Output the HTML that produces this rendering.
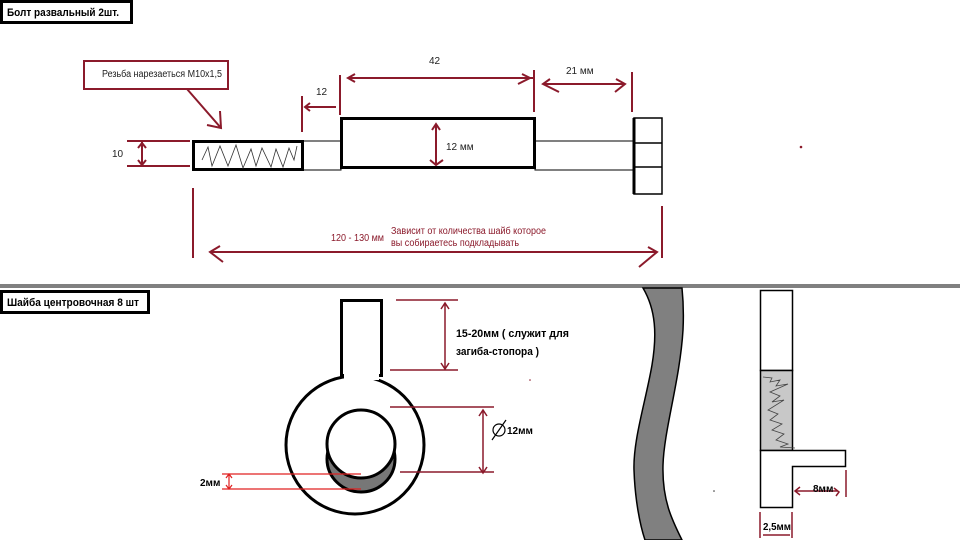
<!DOCTYPE html>
<html><head><meta charset="utf-8"><style>
html,body{margin:0;padding:0;background:#fff;}
svg{display:block;font-family:"Liberation Sans",sans-serif;}
</style></head><body>
<svg width="960" height="540" viewBox="0 0 960 540" xmlns="http://www.w3.org/2000/svg">
<rect width="960" height="540" fill="#fff"/>
<!-- Title 1 -->
<rect x="1.5" y="1.5" width="130" height="21" fill="#fff" stroke="#000" stroke-width="3"/>
<text x="7" y="16" font-size="11" font-weight="bold" textLength="112" lengthAdjust="spacingAndGlyphs">Болт развальный 2шт.</text>
<!-- bolt -->
<g fill="#fff" stroke="#000">
<rect x="303" y="141" width="38" height="29" stroke-width="1"/>
<rect x="535" y="141" width="99" height="29" stroke-width="1"/>
<rect x="193.5" y="141.5" width="109" height="28" stroke-width="3"/>
<rect x="341.5" y="118.5" width="193" height="49" stroke-width="3"/>
<rect x="634" y="118" width="28" height="76" stroke-width="1.5"/>
<path d="M634 143 H662 M634 167 H662" stroke-width="1.5"/>
<path d="M634 118 V194" stroke-width="3"/>
</g>
<path d="M202 160 L208 147 L212 166 L220 146 L228 166 L236 145 L243 168 L251 149 L256 166 L262 148 L271 167 L276 149 L283 167 L289 148 L294 160 L297 146" fill="none" stroke="#333" stroke-width="0.8"/>
<!-- callout -->
<rect x="84" y="61" width="144" height="28" fill="#fff" stroke="#8b1a2b" stroke-width="2"/>
<text x="102" y="77" font-size="10" fill="#222" textLength="120" lengthAdjust="spacingAndGlyphs">Резьба нарезаеться М10х1,5</text>
<g stroke="#8b1a2b" stroke-width="2" fill="none">
<path d="M187 89 L221 128 M220 111 L221 128 L207 125"/>
<path d="M127 141 H190 M127 166 H190 M142 142 V165 M138 148 L142 143 L146 148 M138 160 L142 165 L146 160"/>
<path d="M302 96 V132 M340 75 V115 M305 107 H336 M310 103 L305 107 L310 111"/>
<path d="M348 78 H533 M534 70 V112 M355 74 L348 78 L355 82 M522 74 L530 78 L518 84"/>
<path d="M543 84 H625 M632 72 V112 M550 79 L543 84 L559 92 M616 79 L625 84 L615 92"/>
<path d="M436 124 V164 M432 130 L436 124 L440 130 M430 160 L436 165 L443 160"/>
<path d="M193 188 V258 M662 206 V258 M210 252 H657 M220 246 L210 252 L223 262 M648 247 L657 252 L639 267"/>
</g>
<text x="429" y="64" font-size="10" fill="#222">42</text>
<text x="316" y="95" font-size="10" fill="#222">12</text>
<text x="566" y="74" font-size="10" fill="#222">21 мм</text>
<text x="112" y="157" font-size="10" fill="#222">10</text>
<text x="446" y="150" font-size="10" fill="#222">12 мм</text>
<text x="331" y="241" font-size="10" fill="#8b1a2b" textLength="53" lengthAdjust="spacingAndGlyphs">120 - 130 мм</text>
<text x="391" y="234" font-size="10" fill="#8b1a2b" textLength="155" lengthAdjust="spacingAndGlyphs">Зависит от количества шайб которое</text>
<text x="391" y="246" font-size="10" fill="#8b1a2b" textLength="128" lengthAdjust="spacingAndGlyphs">вы собираетесь подкладывать</text>
<circle cx="801" cy="147" r="1.3" fill="#8b1a2b"/>
<!-- separator -->
<rect x="0" y="284" width="960" height="4" fill="#808080"/>
<!-- Title 2 -->
<rect x="1.5" y="291.5" width="147" height="21" fill="#fff" stroke="#000" stroke-width="3"/>
<text x="7" y="306" font-size="11" font-weight="bold" textLength="132" lengthAdjust="spacingAndGlyphs">Шайба центровочная 8 шт</text>
<!-- washer -->
<circle cx="355" cy="445" r="69" fill="#fff" stroke="#000" stroke-width="3"/>
<rect x="341.5" y="300.5" width="40" height="75" fill="#fff" stroke="#000" stroke-width="3"/>
<rect x="344" y="372" width="35" height="8" fill="#fff"/>
<ellipse cx="361" cy="459" rx="34" ry="33" fill="#777" stroke="#000" stroke-width="3"/>
<circle cx="361" cy="444" r="34" fill="#fff" stroke="#000" stroke-width="3"/>
<g stroke="#8b1a2b" stroke-width="1.5" fill="none">
<path d="M396 300 H458 M390 370 H458 M445 304 V368 M441 309 L445 303 L449 309 M441 363 L445 369 L449 363"/>
<path d="M390 407 H494 M400 472 H494 M483 411 V472 M479 416 L483 410 L487 416 M479 467 L483 473 L487 467"/>
</g>
<g stroke="#e02020" stroke-width="1.2" fill="none">
<path d="M222 474 H361 M222 489 H361 M229 475 V488 M226 478 L229 474 L232 478 M226 485 L229 489 L232 485"/>
</g>
<text x="456" y="337" font-size="11" font-weight="bold" textLength="113" lengthAdjust="spacingAndGlyphs">15-20мм ( служит для</text>
<text x="456" y="355" font-size="11" font-weight="bold" textLength="83" lengthAdjust="spacingAndGlyphs">загиба-стопора )</text>
<circle cx="499" cy="430" r="6" fill="none" stroke="#000" stroke-width="1.2"/>
<path d="M492 440 L506 420" stroke="#000" stroke-width="1.2"/>
<text x="507" y="434" font-size="10" font-weight="bold">12мм</text>
<text x="200" y="486" font-size="10" font-weight="bold">2мм</text>
<circle cx="530" cy="380" r="0.8" fill="#8b1a2b"/>
<circle cx="714" cy="491" r="0.8" fill="#333"/>
<!-- S curve -->
<path d="M643 288 C656 310 657 335 652 365 C646 400 633 440 634 470 C635 500 640 525 645 540 L682 540 C672 520 662 500 663 465 C664 430 680 380 683 330 C684 310 683 298 682 288 Z" fill="#808080" stroke="#000" stroke-width="1.5"/>
<!-- right section -->
<rect x="760.5" y="290.5" width="32" height="80" fill="#fff" stroke="#000" stroke-width="1.5"/>
<rect x="760.5" y="370.5" width="32" height="80" fill="#c8c8c8" stroke="#000" stroke-width="1.5"/>
<path d="M763 377 L772 378 L770 382 L780 380 L776 386 L788 384 L770 392 L780 396 L772 402 L784 400 L768 410 L778 414 L770 420 L782 424 L772 430 L784 434 L776 440 L788 444 L780 447 L795 448" fill="none" stroke="#444" stroke-width="0.8"/>
<path d="M760.5 450.5 H845.5 V466.5 H792.5 V507.5 H760.5 Z" fill="#fff" stroke="#000" stroke-width="1.5"/>
<g stroke="#8b1a2b" stroke-width="1.5" fill="none">
<path d="M846 470 V497 M795 491 H838 M800 487 L795 491 L800 495 M834 488 L839 492 L836 496"/>
<path d="M760 512 V538 M792 512 V538 M763 535 H790"/>
</g>
<text x="813" y="492" font-size="10" font-weight="bold">8мм</text>
<text x="763" y="530" font-size="10" font-weight="bold" textLength="28" lengthAdjust="spacingAndGlyphs">2,5мм</text>
</svg>
</body></html>
